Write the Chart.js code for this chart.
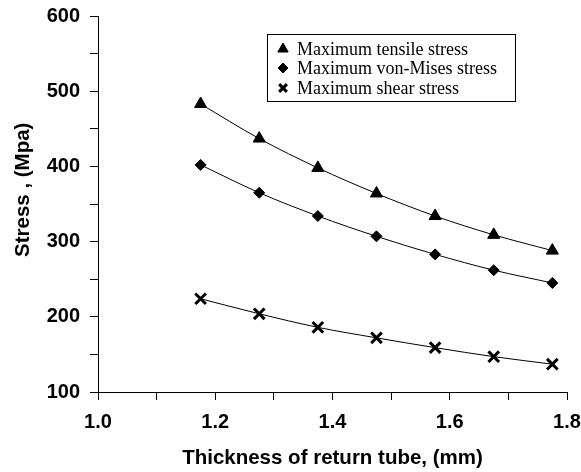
<!DOCTYPE html>
<html>
<head>
<meta charset="utf-8">
<script src="https://cdn.jsdelivr.net/npm/chart.js@4/dist/chart.umd.min.js"></script>
<style>
  html, body { margin: 0; padding: 0; background: #fff; overflow: hidden; }
  #wrap { width: 581px; height: 472px; }
</style>
</head>
<body>
<div id="wrap"><canvas id="myChart" width="581" height="472"></canvas></div>
<script>
// data
var thickness = [1.175, 1.275, 1.375, 1.475, 1.575, 1.675, 1.775];
var tensile = [483, 437, 398, 364, 334, 309, 288];
var vonMises = [402, 365, 334, 307, 283, 262, 245];
var shear = [224, 204, 186, 172, 159, 147, 137];
var seriesNames = ['Maximum tensile stress', 'Maximum von-Mises stress', 'Maximum shear stress'];
var yLabels = [100, 200, 300, 400, 500, 600];
var xLabels = [1.0, 1.2, 1.4, 1.6, 1.8];

function pts(ys) {
    return thickness.map(function (x, i) { return { x: x, y: ys[i] }; });
}

function makeSet(name, ys, style, r, bw) {
    return {
        label: name,
        data: pts(ys),
        borderColor: '#000',
        backgroundColor: '#000',
        borderWidth: 1,
        pointStyle: style,
        pointRadius: r,
        pointBorderWidth: bw,
        pointBackgroundColor: '#000',
        pointBorderColor: '#000',
        cubicInterpolationMode: 'monotone',
        fill: false
    };
}

// boxed legend drawn inside the plot
var boxLegend = {
    id: 'boxLegend',
    afterDraw: function (chart) {
        var ctx = chart.ctx;
        ctx.save();
        ctx.strokeStyle = '#000';
        ctx.lineWidth = 1;
        ctx.fillStyle = '#fff';
        ctx.fillRect(267.5, 34.5, 248, 67);
        ctx.strokeRect(267.5, 34.5, 248, 67);
        ctx.font = '18px "Liberation Serif", "Times New Roman", serif';
        ctx.textBaseline = 'middle';
        ctx.textAlign = 'left';
        var rows = [49, 68, 88];
        var sizes = [6, 5, 5.5];
        chart.data.datasets.forEach(function (ds, i) {
            ctx.fillStyle = '#000';
            ctx.strokeStyle = '#000';
            ctx.lineWidth = ds.pointBorderWidth;
            Chart.helpers.drawPoint(ctx, {
                pointStyle: ds.pointStyle,
                radius: sizes[i],
                rotation: 0,
                borderWidth: ds.pointBorderWidth
            }, 283, rows[i]);
            ctx.fillText(ds.label, 297, rows[i] + 1);
        });
        ctx.restore();
    }
};

var tickFont = { family: '"Liberation Sans", Arial, sans-serif', size: 20, weight: 'bold' };
var titleFont = { family: '"Liberation Sans", Arial, sans-serif', size: 20.5, weight: 'bold' };

var ctx = document.getElementById('myChart').getContext('2d');
var myChart = new Chart(ctx, {
    type: 'line',
    data: {
        datasets: [
            makeSet(seriesNames[0], tensile, 'triangle', 7, 1),
            makeSet(seriesNames[1], vonMises, 'rectRot', 5.5, 1),
            makeSet(seriesNames[2], shear, 'crossRot', 7.5, 3)
        ]
    },
    options: {
        responsive: false,
        animation: false,
        layout: { padding: { top: 16, right: 0, left: 0, bottom: 0 } },
        plugins: {
            legend: { display: false },
            tooltip: { enabled: false }
        },
        scales: {
            x: {
                type: 'linear',
                min: 1.0,
                max: 1.8,
                grid: { drawOnChartArea: false, drawTicks: true, tickLength: 8, color: '#000' },
                border: { color: '#000', width: 1 },
                ticks: {
                    stepSize: 0.1,
                    autoSkip: false,
                    maxRotation: 0,
                    color: '#000',
                    font: tickFont,
                    padding: 10,
                    callback: function (v) {
                        var r = Math.round(v * 10) / 10;
                        return xLabels.some(function (l) { return Math.abs(l - r) < 1e-6; }) ? r.toFixed(1) : '';
                    }
                },
                title: {
                    display: true,
                    text: 'Thickness of return tube, (mm)',
                    color: '#000',
                    font: titleFont,
                    padding: { top: 8, bottom: 1 }
                },
                afterFit: function (s) {
                    s.paddingRight = 14;
                    s.paddingLeft = 0;
                    s.height = 80;
                }
            },
            y: {
                min: 100,
                max: 600,
                grid: { drawOnChartArea: false, drawTicks: true, tickLength: 8, color: '#000' },
                border: { color: '#000', width: 1 },
                ticks: {
                    stepSize: 50,
                    autoSkip: false,
                    color: '#000',
                    font: tickFont,
                    padding: 10,
                    callback: function (v) {
                        return yLabels.indexOf(v) >= 0 ? String(v) : '';
                    }
                },
                title: {
                    display: true,
                    text: '     Stress , (Mpa)',
                    color: '#000',
                    font: titleFont,
                    padding: { top: 11, bottom: 4 }
                },
                afterFit: function (s) {
                    s.width = 98;
                    s.paddingTop = 0;
                    s.paddingBottom = 0;
                }
            }
        }
    },
    plugins: [boxLegend]
});
</script>
</body>
</html>
